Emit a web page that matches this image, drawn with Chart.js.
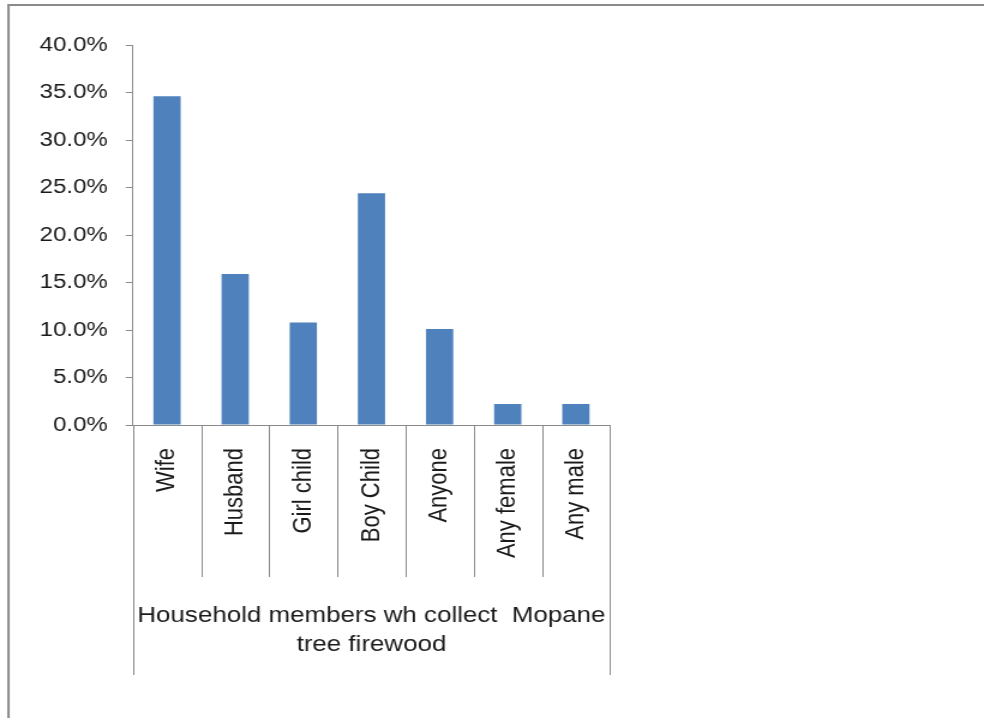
<!DOCTYPE html>
<html>
<head>
<meta charset="utf-8">
<script src="https://cdn.jsdelivr.net/npm/chart.js@4/dist/chart.umd.min.js"></script>
<style>
  html, body { margin: 0; padding: 0; background: #fff; }
  #wrap { width: 984px; height: 718px; overflow: hidden; position: relative; }
  /* the original picture is stretched sideways, so is the canvas */
  #chart { transform: scaleX(1.2); transform-origin: 0 0; display: block; }
</style>
</head>
<body>
<div id="wrap"><canvas id="chart" width="820" height="718"></canvas></div>
<script>
const categories = ['Wife', 'Husband', 'Girl child', 'Boy Child', 'Anyone', 'Any female', 'Any male'];
const shares = [34.6, 15.9, 10.8, 24.4, 10.1, 2.2, 2.2];
const groupLabel = ['Household members wh collect  Mopane', 'tree firewood'];
const yMax = 40;
const yStep = 5;

const GRAY = '#8a8a8a';
const FONT = 'Liberation Sans, Arial, sans-serif';

// frame, category separators and the group label of the two-level axis
const excelAxis = {
  id: 'excelAxis',
  beforeDraw(chart) {
    const ctx = chart.ctx;
    ctx.save();
    ctx.strokeStyle = GRAY;
    ctx.lineWidth = 2;
    ctx.beginPath();
    ctx.moveTo(7.1, 730);
    ctx.lineTo(7.1, 5);
    ctx.lineTo(830, 5);
    ctx.stroke();
    ctx.restore();
  },
  afterDraw(chart) {
    const ctx = chart.ctx;
    const x = chart.scales.x;
    const area = chart.chartArea;
    const step = x.getPixelForValue(1) - x.getPixelForValue(0);
    ctx.save();
    ctx.strokeStyle = GRAY;
    ctx.lineWidth = 1;
    for (let i = 0; i <= categories.length; i++) {
      const px = Math.round(x.getPixelForValue(i) - step / 2) + 0.5;
      const outer = (i === 0 || i === categories.length);
      ctx.beginPath();
      ctx.moveTo(px, area.bottom);
      ctx.lineTo(px, outer ? 675 : 577);
      ctx.stroke();
    }
    ctx.fillStyle = '#1a1a1a';
    ctx.font = '21.6px ' + FONT;
    ctx.textAlign = 'center';
    ctx.textBaseline = 'middle';
    const cx = (area.left + area.right) / 2;
    groupLabel.forEach((line, i) => ctx.fillText(line, cx, 616 + i * 29));
    ctx.restore();
  }
};

new Chart(document.getElementById('chart'), {
  type: 'bar',
  data: {
    labels: categories,
    datasets: [{
      data: shares,
      backgroundColor: '#4f81bd',
      borderWidth: 0,
      categoryPercentage: 1,
      barPercentage: 0.4
    }]
  },
  options: {
    responsive: false,
    animation: false,
    devicePixelRatio: 1,
    layout: { padding: { left: 10, right: 311.7, top: 45, bottom: 143 } },
    plugins: { legend: { display: false }, tooltip: { enabled: false } },
    scales: {
      x: {
        afterFit(scale) { scale.height = 150; },
        grid: { display: false },
        border: { color: GRAY, width: 1 },
        ticks: {
          minRotation: 90,
          maxRotation: 90,
          padding: 15,
          color: '#1a1a1a',
          font: { family: FONT, size: 22 }
        }
      },
      y: {
        min: 0,
        max: yMax,
        afterFit(scale) { scale.width = 100.8; },
        grid: { drawOnChartArea: false, drawTicks: true, tickLength: 6, color: GRAY },
        border: { color: GRAY, width: 1 },
        ticks: {
          stepSize: yStep,
          padding: 15,
          color: '#1a1a1a',
          font: { family: FONT, size: 20 },
          callback: v => v.toFixed(1) + '%'
        }
      }
    }
  },
  plugins: [excelAxis]
});
</script>
</body>
</html>
